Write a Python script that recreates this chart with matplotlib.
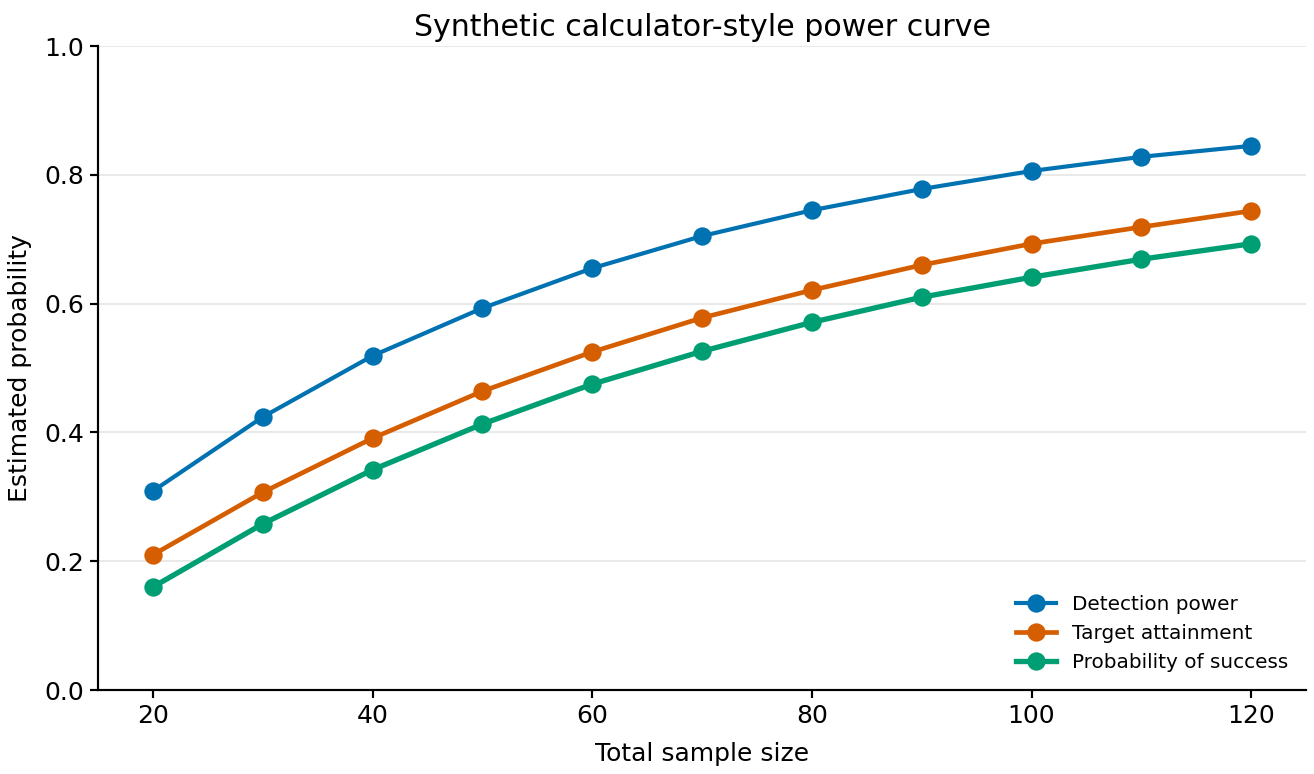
import matplotlib
matplotlib.use("Agg")
import matplotlib.pyplot as plt

# values
sample_size = [20, 30, 40, 50, 60, 70, 80, 90, 100, 110, 120]
detection_power = [0.309, 0.424, 0.519, 0.593, 0.655, 0.705, 0.745, 0.778, 0.806, 0.828, 0.845]
target_attainment = [0.210, 0.307, 0.391, 0.464, 0.525, 0.578, 0.621, 0.660, 0.693, 0.719, 0.744]
prob_success = [0.160, 0.258, 0.342, 0.413, 0.475, 0.526, 0.571, 0.610, 0.641, 0.669, 0.693]

fig = plt.figure(figsize=(10.95, 6.45), dpi=120)
ax = fig.add_axes([0.0746, 0.1085, 0.9194, 0.832])

ax.plot(sample_size, detection_power, marker="o", color="#0072B2", lw=2.5, ms=10, label="Detection power")
ax.plot(sample_size, target_attainment, marker="o", color="#D55E00", lw=2.8, ms=10, label="Target attainment")
ax.plot(sample_size, prob_success, marker="o", color="#009E73", lw=3.2, ms=10, label="Probability of success")

ax.set_xlim(15, 125)
ax.set_ylim(0, 1)
ax.set_xticks([20, 40, 60, 80, 100, 120])
ax.set_yticks([0.0, 0.2, 0.4, 0.6, 0.8, 1.0])
ax.grid(axis="y", color="#e5e5e5", lw=1)
ax.set_axisbelow(True)
for s in ["top", "right"]:
    ax.spines[s].set_visible(False)
ax.spines["left"].set_linewidth(1.3)
ax.spines["bottom"].set_linewidth(1.3)
ax.tick_params(labelsize=15, width=1.3, length=5)

ax.set_title("Synthetic calculator-style power curve", fontsize=18)
ax.set_xlabel("Total sample size", fontsize=15, labelpad=8)
ax.set_ylabel("Estimated probability", fontsize=15, labelpad=7)
ax.legend(loc="lower right", frameon=False, fontsize=12)

plt.savefig("out.png", dpi=120)
